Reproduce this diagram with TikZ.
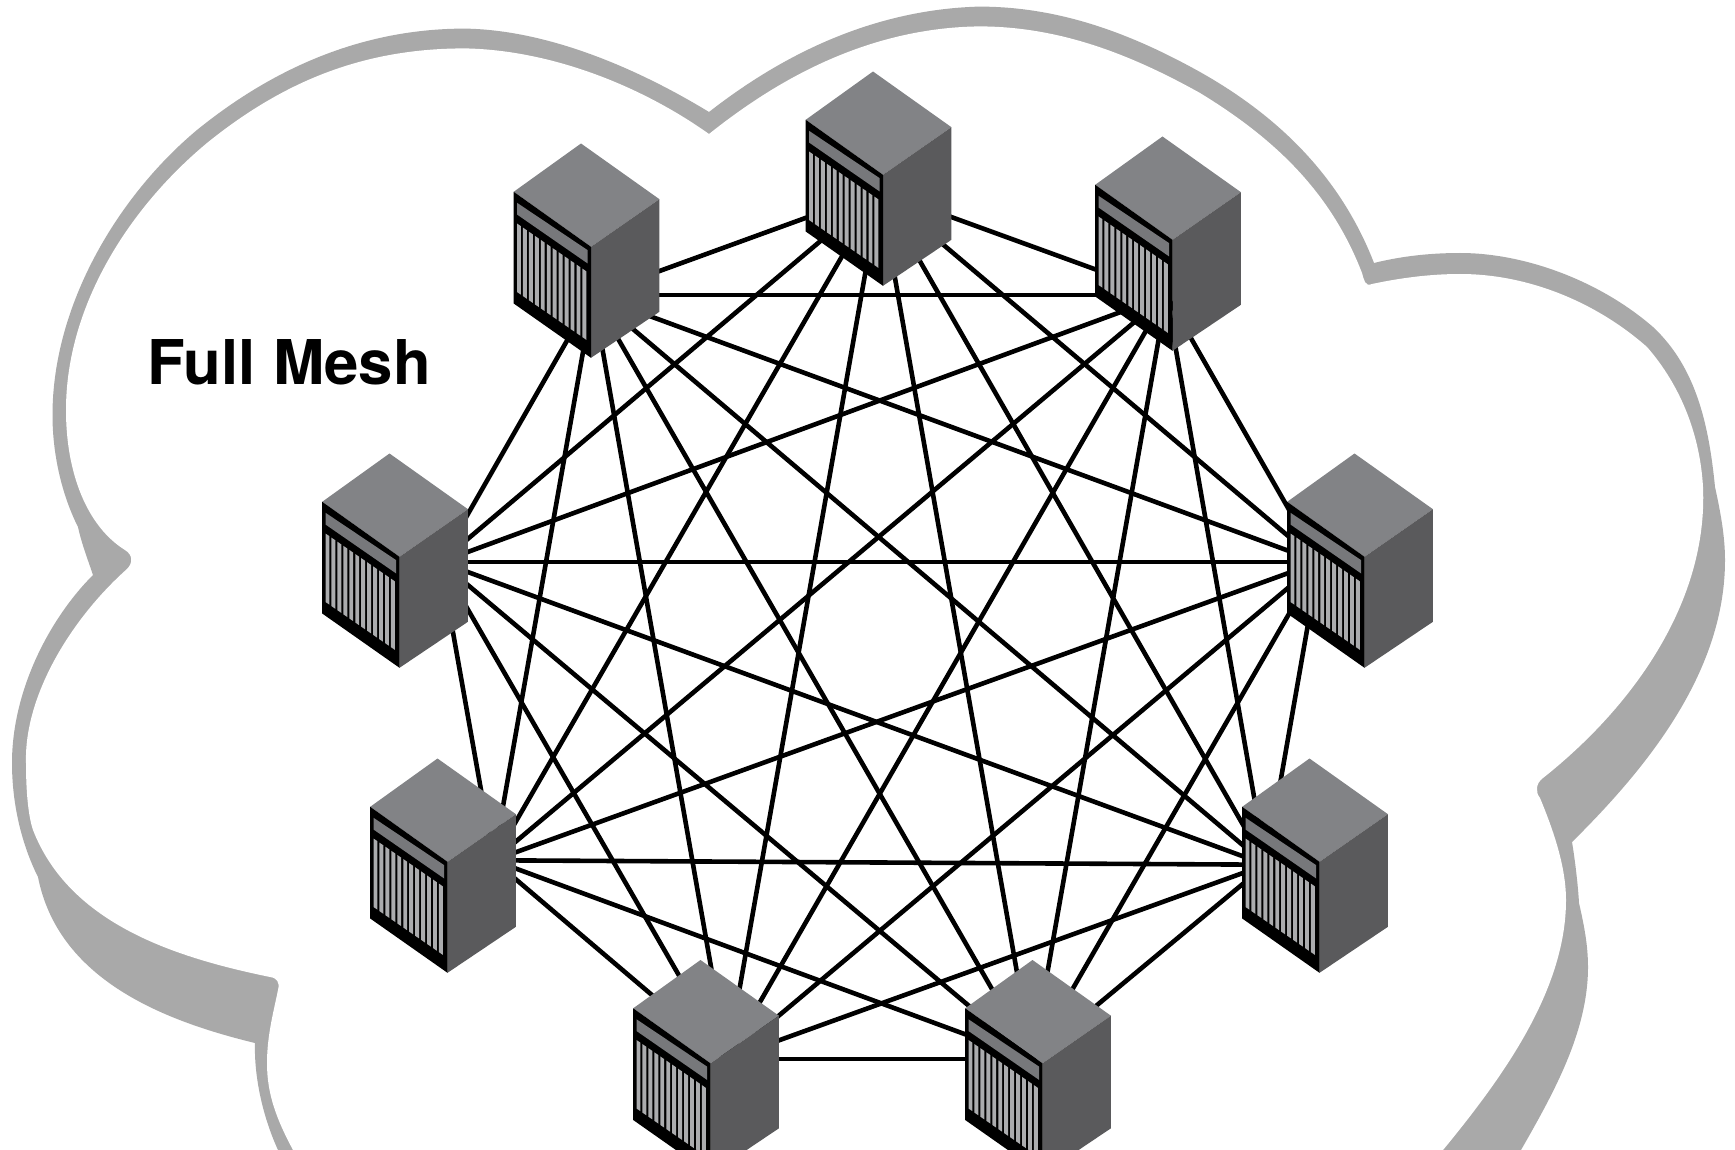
\documentclass[tikz,border=0pt]{standalone}
\usepackage{fontspec}
\setmainfont{TeX Gyre Heros}
\definecolor{cloudgray}{HTML}{A9A9A9}
\definecolor{racktop}{HTML}{828386}
\definecolor{rackside}{HTML}{5A5A5C}
\definecolor{rackband}{HTML}{77787B}
\definecolor{rackslot}{HTML}{ABACAE}
\tikzset{
  meshline/.style={draw=black,line width=4.6pt},
  pics/rack/.style={code={
    \fill[racktop] (0,0) -- (78.4,55.7) -- (10,103.3) -- (-67.3,48.3) -- cycle;
    \fill[rackside] (78.4,55.7) -- (78.4,168.3) -- (10,214.3) -- (10,103.3) -- cycle;
    \fill[black] (-67.3,48.3) -- (10,103.3) -- (10,214.3) -- (-67.3,160) -- cycle;
    \fill[rackband] (-64,59.3) -- (6.7,106.7) -- (6.7,120) -- (-64,71) -- cycle;
    \foreach \k in {0,...,11}{
      \pgfmathsetmacro{\xa}{-64+\k*5.95}
      \pgfmathsetmacro{\xb}{\xa+3.9}
      \pgfmathsetmacro{\ya}{80+(\xa+64)*0.69}
      \pgfmathsetmacro{\yb}{80+(\xb+64)*0.69}
      \fill[rackslot] (\xa,\ya) -- (\xb,\yb) -- (\xb,\yb+68.5) -- (\xa,\ya+68.5) -- cycle;
    }
  }}
}
\begin{document}
\begin{tikzpicture}[x=1pt,y=-1pt]
\useasboundingbox (0,0) rectangle (1735,1150);
\clip (0,0) rectangle (1735,1150);
\fill[white] (0,0) rectangle (1735,1150);
% cloud outer
\fill[cloudgray] (709,112)
  .. controls (768,66) and (860,10) .. (979,6.6)
  .. controls (1059,6.6) and (1130,33) .. (1200,72)
  .. controls (1280,117) and (1341,178) .. (1374,263)
  .. controls (1402,256) and (1431,253) .. (1460,253)
  .. controls (1525,253) and (1600,281) .. (1653,327)
  .. controls (1697,368) and (1709,427) .. (1715,487)
  .. controls (1720,510) and (1725,535) .. (1725,560)
  .. controls (1725,670) and (1650,765) .. (1572,842)
  .. controls (1575,860) and (1578,885) .. (1579,903)
  .. controls (1584,925) and (1588,945) .. (1588,967)
  .. controls (1588,1032) and (1553,1094) .. (1521,1150)
  -- (1500,1187) -- (295,1190) -- (278,1150)
  .. controls (262,1115) and (254,1075) .. (255,1043)
  .. controls (160,1020) and (58,978) .. (38,877)
  .. controls (22,845) and (12,805) .. (12,763)
  .. controls (12,690) and (50,618) .. (93,575)
  .. controls (88,560) and (82,545) .. (78,527)
  .. controls (62,495) and (52.5,455) .. (52.5,415)
  .. controls (52.5,305) and (118,196) .. (197,130)
  .. controls (276,66) and (365,28.6) .. (465,28.6)
  .. controls (550,30) and (640,70) .. (709,112) -- cycle;
% cloud inner
\fill[white] (709,134)
  .. controls (768,87) and (860,28) .. (979,26.4)
  .. controls (1059,26.4) and (1130,54) .. (1200,93)
  .. controls (1272,137) and (1330,190) .. (1362,273)
  .. controls (1364,280) and (1365,287) .. (1372,284)
  .. controls (1400,278) and (1430,274) .. (1460,274)
  .. controls (1528,274) and (1596,302) .. (1647,347)
  .. controls (1681,386) and (1700,435) .. (1703,487)
  .. controls (1708,600) and (1635,705) .. (1543,778)
  .. controls (1536,783) and (1535,792) .. (1540,798)
  .. controls (1552,827) and (1566,865) .. (1566,900)
  .. controls (1566,990) and (1503,1077) .. (1443,1150)
  -- (1412,1190) -- (310,1190) -- (293,1150)
  .. controls (277,1120) and (267,1095) .. (267,1063)
  .. controls (267,1035) and (274,1010) .. (278,990)
  .. controls (280,982) and (277,978) .. (270,977)
  .. controls (178,958) and (70,925) .. (33,830)
  .. controls (28,815) and (26,790) .. (26,763)
  .. controls (24,695) and (72,618) .. (127,569)
  .. controls (133,563) and (133,555) .. (125,550)
  .. controls (88,527) and (66,475) .. (66,410)
  .. controls (66,305) and (130,207) .. (207,143)
  .. controls (285,80) and (365,48.4) .. (465,48.4)
  .. controls (550,50) and (640,85) .. (709,134) -- cycle;
% hubs
\coordinate (h1) at (879.7,191);
\coordinate (h2) at (1166.4,295.2);
\coordinate (h3) at (1318.9,562);
\coordinate (h4) at (1265.9,864.7);
\coordinate (h5) at (1032.2,1059);
\coordinate (h6) at (727.2,1059);
\coordinate (h7) at (493.5,860.3);
\coordinate (h8) at (440.5,562);
\coordinate (h9) at (593,295.2);
\foreach \i in {1,...,9}{
  \foreach \j in {1,...,9}{
    \ifnum\i<\j
      \draw[meshline] (h\i) -- (h\j);
    \fi
  }
}
% racks
\pic at (581,143.5) {rack};
\pic at (873,71.5) {rack};
\pic at (1162.5,136.5) {rack};
\pic at (389.5,453.5) {rack};
\pic at (1354.5,453.5) {rack};
\pic at (437.5,758.5) {rack};
\pic at (1309.5,758.5) {rack};
\pic at (700.5,960) {rack};
\pic at (1032.5,960) {rack};
\node[anchor=base west,inner sep=0pt,font=\bfseries\fontsize{61.7}{62}\selectfont] (title) at (147.5,384.3) {Full Mesh};
\end{tikzpicture}
\end{document}
